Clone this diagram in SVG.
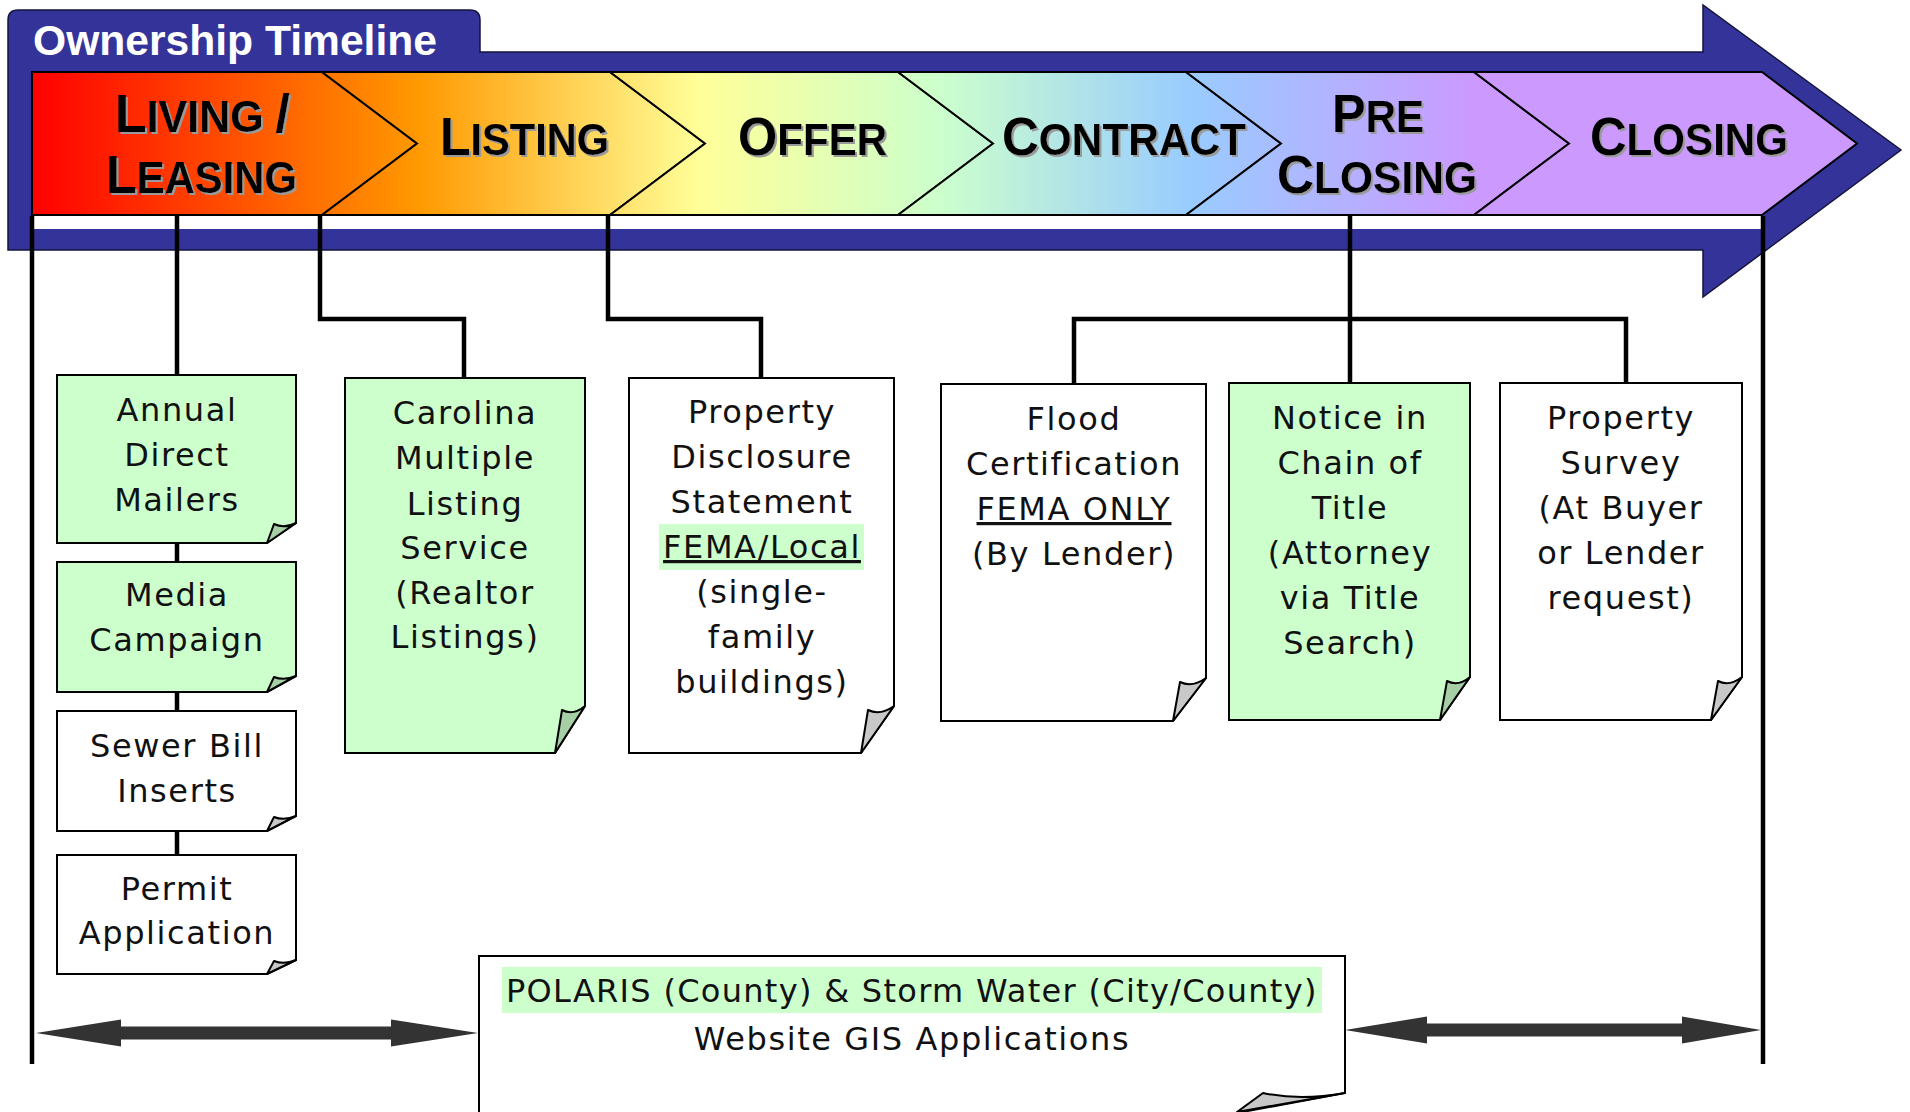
<svg xmlns="http://www.w3.org/2000/svg" width="1910" height="1112" viewBox="0 0 1910 1112">
  <defs>
    <style>
      .band { fill:#333399; stroke:#15153d; stroke-width:1.5; stroke-linejoin:miter; }
      .chev { fill:url(#phaseFill); stroke:#000; stroke-width:2; stroke-linejoin:miter; }
      .title { font-family:"Liberation Sans", Arial, sans-serif; font-weight:bold; font-size:42px; fill:#fff; }
      .phase { font-family:"Liberation Sans", Arial, sans-serif; font-weight:bold; fill:#000; filter:url(#shadow); }
      .big { font-size:53px; }
      .sm { font-size:44px; }
      .conn { fill:none; stroke:#000; stroke-width:4.5; stroke-linejoin:miter; }
      .dbl { fill:#333333; }
      .doc { stroke:#000; stroke-width:2; stroke-linejoin:miter; }
      .g { fill:#CCFFCC; }
      .w { fill:#FFFFFF; }
      .flap-g { fill:#A6CFA6; stroke:#000; stroke-width:2; stroke-linejoin:round; }
      .flap-w { fill:#C8C8C8; stroke:#000; stroke-width:2; stroke-linejoin:round; }
      .hl { fill:#CCFFCC; }
      .lbl { font-family:"DejaVu Sans", Verdana, sans-serif; font-size:32px; letter-spacing:1.6px; text-anchor:middle; fill:#111; }
      .u { text-decoration:underline; }
    </style>
    <linearGradient id="phaseFill" gradientUnits="userSpaceOnUse" x1="32" y1="0" x2="1857" y2="0">
      <stop offset="0" stop-color="#FF0000"/>
      <stop offset="0.211" stop-color="#FF9900"/>
      <stop offset="0.366" stop-color="#FFFF99"/>
      <stop offset="0.4975" stop-color="#CCFFCC"/>
      <stop offset="0.6345" stop-color="#99CCFF"/>
      <stop offset="0.7934" stop-color="#CC99FF"/>
      <stop offset="1" stop-color="#CC99FF"/>
    </linearGradient>
    <filter id="shadow" x="-5%" y="-10%" width="115%" height="130%">
      <feDropShadow dx="2" dy="2" stdDeviation="0" flood-color="#9a9a9a" flood-opacity="1"/>
    </filter>
  </defs>

  <!-- timeline band with title tab and arrow head -->
  <g id="timeline-arrow">
    <path class="band" d="M8,250 V20 Q8,10 18,10 H470 Q480,10 480,20 V52 H1703 V5 L1901,150 L1703,297 V250 Z"/>
    <text class="title" x="33" y="55" textLength="404" lengthAdjust="spacingAndGlyphs">Ownership Timeline</text>
    <rect x="32" y="215" width="1730" height="14" fill="#fff"/>
  </g>

  <!-- phase chevrons -->
  <g id="phase-living">
    <path class="chev" d="M32,72 H322 L417,143.5 L322,215 H32 Z"/>
    <text class="phase" x="115" y="132" textLength="175" lengthAdjust="spacingAndGlyphs"><tspan class="big">L</tspan><tspan class="sm">IVING </tspan><tspan class="big">/</tspan></text>
    <text class="phase" x="106" y="193" textLength="191" lengthAdjust="spacingAndGlyphs"><tspan class="big">L</tspan><tspan class="sm">EASING</tspan></text>
  </g>
  <g id="phase-listing">
    <path class="chev" d="M322,72 H610 L705,143.5 L610,215 H322 L417,143.5 Z"/>
    <text class="phase" x="440" y="155" textLength="169" lengthAdjust="spacingAndGlyphs"><tspan class="big">L</tspan><tspan class="sm">ISTING</tspan></text>
  </g>
  <g id="phase-offer">
    <path class="chev" d="M610,72 H898 L993,143.5 L898,215 H610 L705,143.5 Z"/>
    <text class="phase" x="738" y="155" textLength="149" lengthAdjust="spacingAndGlyphs"><tspan class="big">O</tspan><tspan class="sm">FFER</tspan></text>
  </g>
  <g id="phase-contract">
    <path class="chev" d="M898,72 H1186 L1281,143.5 L1186,215 H898 L993,143.5 Z"/>
    <text class="phase" x="1002" y="155" textLength="244" lengthAdjust="spacingAndGlyphs"><tspan class="big">C</tspan><tspan class="sm">ONTRACT</tspan></text>
  </g>
  <g id="phase-preclosing">
    <path class="chev" d="M1186,72 H1474 L1569,143.5 L1474,215 H1186 L1281,143.5 Z"/>
    <text class="phase" x="1332" y="132" textLength="92" lengthAdjust="spacingAndGlyphs"><tspan class="big">P</tspan><tspan class="sm">RE</tspan></text>
    <text class="phase" x="1277" y="193" textLength="200" lengthAdjust="spacingAndGlyphs"><tspan class="big">C</tspan><tspan class="sm">LOSING</tspan></text>
  </g>
  <g id="phase-closing">
    <path class="chev" d="M1474,72 H1762 L1857,143.5 L1762,215 H1474 L1569,143.5 Z"/>
    <text class="phase" x="1590" y="155" textLength="198" lengthAdjust="spacingAndGlyphs"><tspan class="big">C</tspan><tspan class="sm">LOSING</tspan></text>
  </g>

  <!-- connectors -->
  <g id="connectors">
    <path class="conn" d="M32,216 V1064"/>
    <path class="conn" d="M1763,216 V1064"/>
    <path class="conn" d="M177,216 V855"/>
    <path class="conn" d="M320,216 V319 H464 V378"/>
    <path class="conn" d="M608,216 V319 H761 V378"/>
    <path class="conn" d="M1350,216 V383"/>
    <path class="conn" d="M1074,384 V319 H1626 V383"/>
    <polygon class="dbl" points="36,1033 121,1019.5 121,1026.5 391,1026.5 391,1019.5 478,1033 391,1046.5 391,1039.5 121,1039.5 121,1046.5"/>
    <polygon class="dbl" points="1345,1030 1427,1016.5 1427,1023.5 1682,1023.5 1682,1016.5 1761,1030 1682,1043.5 1682,1036.5 1427,1036.5 1427,1043.5"/>
  </g>

  <!-- source documents -->
  <g id="annual-mailers">
    <path class="doc g" d="M57,375 H296 V523 L267,543 H57 Z"/>
    <path class="flap-g" d="M267,543 L274,524 Q284,529 296,523 Z"/>
    <text class="lbl" x="177" y="421">Annual</text>
    <text class="lbl" x="177" y="466">Direct</text>
    <text class="lbl" x="177" y="511">Mailers</text>
  </g>
  <g id="media-campaign">
    <path class="doc g" d="M57,562 H296 V676 L267,692 H57 Z"/>
    <path class="flap-g" d="M267,692 L274,677 Q284,681 296,676 Z"/>
    <text class="lbl" x="177" y="606">Media</text>
    <text class="lbl" x="177" y="651">Campaign</text>
  </g>
  <g id="sewer-inserts">
    <path class="doc w" d="M57,711 H296 V816 L267,831 H57 Z"/>
    <path class="flap-w" d="M267,831 L274,817 Q284,821 296,816 Z"/>
    <text class="lbl" x="177" y="757">Sewer Bill</text>
    <text class="lbl" x="177" y="802">Inserts</text>
  </g>
  <g id="permit-application">
    <path class="doc w" d="M57,855 H296 V960 L267,974 H57 Z"/>
    <path class="flap-w" d="M267,974 L274,961 Q284,965 296,960 Z"/>
    <text class="lbl" x="177" y="900">Permit</text>
    <text class="lbl" x="177" y="944">Application</text>
  </g>
  <g id="carolina-mls">
    <path class="doc g" d="M345,378 H585 V706 L555,753 H345 Z"/>
    <path class="flap-g" d="M555,753 L562,710 Q573,716 585,706 Z"/>
    <text class="lbl" x="465" y="424">Carolina</text>
    <text class="lbl" x="465" y="469">Multiple</text>
    <text class="lbl" x="465" y="515">Listing</text>
    <text class="lbl" x="465" y="559">Service</text>
    <text class="lbl" x="465" y="604">(Realtor</text>
    <text class="lbl" x="465" y="648">Listings)</text>
  </g>
  <g id="disclosure-statement">
    <path class="doc w" d="M629,378 H894 V706 L861,753 H629 Z"/>
    <path class="flap-w" d="M861,753 L868,710 Q880,716 894,706 Z"/>
    <rect class="hl" x="659" y="524" width="205" height="46"/>
    <text class="lbl" x="762" y="423">Property</text>
    <text class="lbl" x="762" y="468">Disclosure</text>
    <text class="lbl" x="762" y="513">Statement</text>
    <text class="lbl u" x="762" y="558">FEMA/Local</text>
    <text class="lbl" x="762" y="603">(single-</text>
    <text class="lbl" x="762" y="648">family</text>
    <text class="lbl" x="762" y="693">buildings)</text>
  </g>
  <g id="flood-certification">
    <path class="doc w" d="M941,384 H1206 V678 L1173,721 H941 Z"/>
    <path class="flap-w" d="M1173,721 L1180,682 Q1192,688 1206,678 Z"/>
    <text class="lbl" x="1074" y="430">Flood</text>
    <text class="lbl" x="1074" y="475">Certification</text>
    <text class="lbl u" x="1074" y="520">FEMA ONLY</text>
    <text class="lbl" x="1074" y="565">(By Lender)</text>
  </g>
  <g id="chain-of-title">
    <path class="doc g" d="M1229,383 H1470 V677 L1440,720 H1229 Z"/>
    <path class="flap-g" d="M1440,720 L1447,681 Q1458,687 1470,677 Z"/>
    <text class="lbl" x="1350" y="429">Notice in</text>
    <text class="lbl" x="1350" y="474">Chain of</text>
    <text class="lbl" x="1350" y="519">Title</text>
    <text class="lbl" x="1350" y="564">(Attorney</text>
    <text class="lbl" x="1350" y="609">via Title</text>
    <text class="lbl" x="1350" y="654">Search)</text>
  </g>
  <g id="property-survey">
    <path class="doc w" d="M1500,383 H1742 V677 L1711,720 H1500 Z"/>
    <path class="flap-w" d="M1711,720 L1718,681 Q1729,687 1742,677 Z"/>
    <text class="lbl" x="1621" y="429">Property</text>
    <text class="lbl" x="1621" y="474">Survey</text>
    <text class="lbl" x="1621" y="519">(At Buyer</text>
    <text class="lbl" x="1621" y="564">or Lender</text>
    <text class="lbl" x="1621" y="609">request)</text>
  </g>
  <g id="gis-applications">
    <path class="doc w" d="M479,956 H1345 V1093 L1237,1113 H479 Z"/>
    <path class="flap-w" d="M1237,1112 L1263,1093 Q1300,1101 1345,1093 Z"/>
    <rect class="hl" x="502" y="967" width="820" height="46"/>
    <text class="lbl" x="912" y="1002" textLength="812" lengthAdjust="spacing">POLARIS (County) &amp; Storm Water (City/County)</text>
    <text class="lbl" x="912" y="1050">Website GIS Applications</text>
  </g>
</svg>
